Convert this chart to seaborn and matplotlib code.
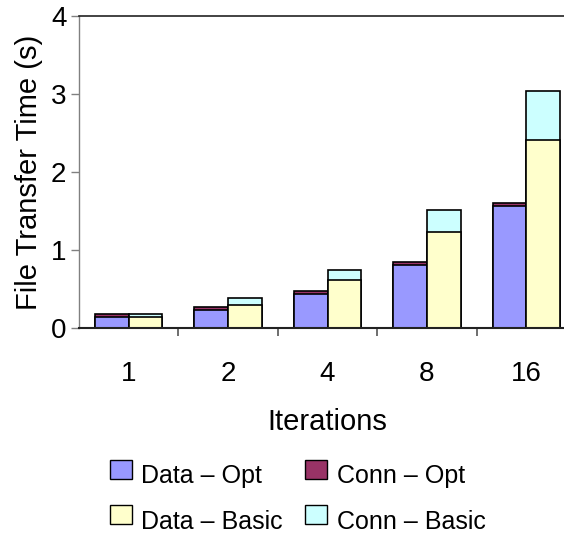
import matplotlib
matplotlib.use("Agg")
import matplotlib.pyplot as plt
import seaborn as sns
import pandas as pd
from matplotlib.patches import Patch, Rectangle
from matplotlib.legend_handler import HandlerPatch
from matplotlib.ticker import FixedLocator

# Transfer-time components (seconds) per iteration count
iterations = ["1", "2", "4", "8", "16"]
data_opt = [0.14, 0.235, 0.43, 0.81, 1.57]
conn_opt = [0.045, 0.035, 0.045, 0.04, 0.035]
data_basic = [0.146, 0.30, 0.61, 1.23, 2.415]
conn_basic = [0.039, 0.08, 0.14, 0.28, 0.62]

configs = ["Opt", "Basic"]
colors = {
    "Data – Opt": "#9999ff",
    "Conn – Opt": "#993366",
    "Data – Basic": "#ffffcc",
    "Conn – Basic": "#ccffff",
}

rows = []
for i, it in enumerate(iterations):
    rows.append(dict(iteration=it, config="Opt", data=data_opt[i],
                     total=data_opt[i] + conn_opt[i]))
    rows.append(dict(iteration=it, config="Basic", data=data_basic[i],
                     total=data_basic[i] + conn_basic[i]))
df = pd.DataFrame(rows)

sns.set_style("white")
plt.rcParams["font.family"] = ["Liberation Sans", "DejaVu Sans"]
plt.rcParams["text.color"] = "black"
plt.rcParams["axes.labelcolor"] = "black"
plt.rcParams["xtick.labelcolor"] = "black"
plt.rcParams["ytick.labelcolor"] = "black"

fig = plt.figure(figsize=(5.64, 5.35), dpi=100)
W, H = 564, 535
ax = fig.add_axes([79 / W, (H - 328) / H, (576 - 79) / W, 312 / H])

bar_kw = dict(x="iteration", hue="config", hue_order=configs, order=iterations,
              width=0.68, edgecolor="black", linewidth=1.2, legend=False,
              saturation=1, ax=ax)
# stacked: full height (connection on top) first, data part drawn over it
sns.barplot(data=df, y="total",
            palette={"Opt": colors["Conn – Opt"], "Basic": colors["Conn – Basic"]},
            **bar_kw)
sns.barplot(data=df, y="data",
            palette={"Opt": colors["Data – Opt"], "Basic": colors["Data – Basic"]},
            **bar_kw)

ax.set_ylim(0, 4)
ax.set_xlim(-0.5, len(iterations) - 0.5)
ax.set_yticks([0, 1, 2, 3, 4])
ax.tick_params(axis="y", which="major", direction="out", length=6, width=1,
               color="#808080", labelsize=20, pad=3, left=True)
ax.tick_params(axis="x", which="major", length=0, labelsize=20, pad=24)
ax.xaxis.set_minor_locator(FixedLocator([i + 0.5 for i in range(len(iterations))]))
ax.tick_params(axis="x", which="minor", direction="out", length=6, width=1.2,
               color="#555555", bottom=True)

ax.set_xlabel("Iterations", fontsize=21, labelpad=15)
ax.set_ylabel("File Transfer Time (s)", fontsize=21, labelpad=6)

for side in ["left", "bottom", "top"]:
    ax.spines[side].set_visible(True)
ax.spines["left"].set_color("#808080")
ax.spines["left"].set_linewidth(1)
ax.spines["bottom"].set_color("#222222")
ax.spines["bottom"].set_linewidth(1.5)
ax.spines["top"].set_color("#222222")
ax.spines["top"].set_linewidth(1.2)
ax.spines["right"].set_visible(False)


def raised_box(legend, orig_handle, xdescent, ydescent, width, height, fontsize):
    # legend swatch sitting a little above the text's centre line
    return Rectangle((-xdescent, -ydescent + 0.3 * height), width, height)


order = ["Data – Opt", "Data – Basic", "Conn – Opt", "Conn – Basic"]
handles = [Patch(facecolor=colors[k], edgecolor="black", linewidth=1, label=k)
           for k in order]
fig.legend(handles=handles, loc="upper left", bbox_to_anchor=(87 / W, 1 - 442 / H),
           ncol=2, frameon=False, fontsize=18, handlelength=0.88, handleheight=0.8,
           handletextpad=0.38, columnspacing=0.9, labelspacing=0.85,
           handler_map={Patch: HandlerPatch(patch_func=raised_box)})

fig.savefig("out.png", dpi=100)
